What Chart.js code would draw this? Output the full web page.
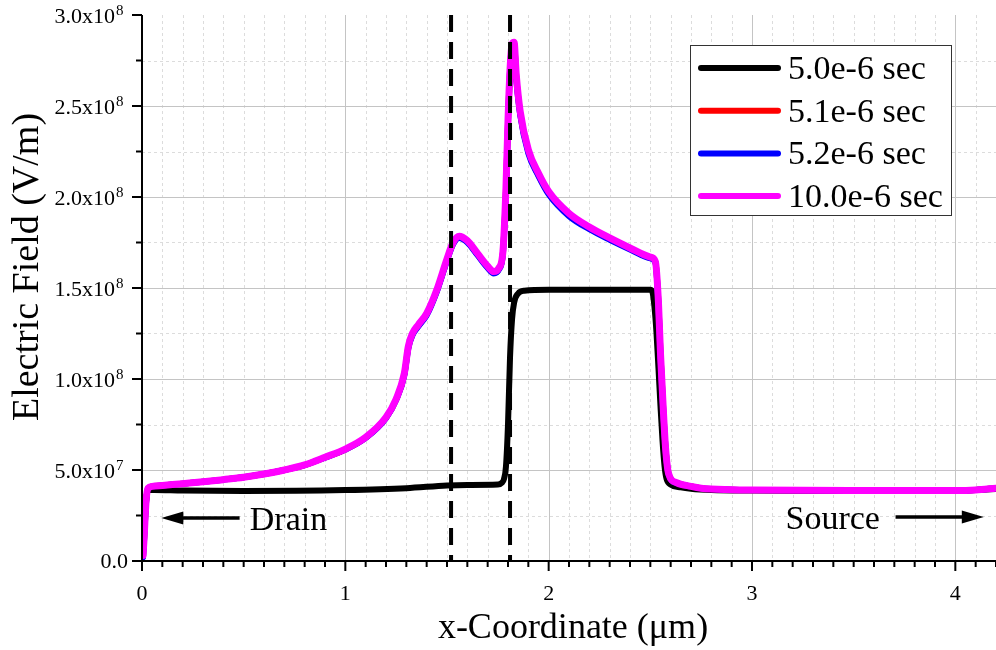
<!DOCTYPE html>
<html>
<head>
<meta charset="utf-8">
<title>Electric Field vs x-Coordinate</title>
<script src="https://cdn.jsdelivr.net/npm/chart.js@4.4.0/dist/chart.umd.min.js"></script>
<style>
  html, body { margin: 0; padding: 0; background: #fff; }
  #wrap { width: 996px; height: 650px; position: relative; }
</style>
</head>
<body>
<div id="wrap"><canvas id="field-chart"></canvas></div>
<script>
// field values are in units of 1e8 V/m, x in um
var yUnit = 1e8;

// x grid shared by the 5.1e-6, 5.2e-6 and 10.0e-6 sec curves
var xTransient = [0.005, 0.01, 0.02, 0.03, 0.05, 0.1, 0.2, 0.3, 0.4, 0.5, 0.6, 0.7, 0.8, 0.9, 1.0,
  1.1, 1.2, 1.25, 1.29, 1.31, 1.33, 1.36, 1.4, 1.45, 1.5, 1.53, 1.56, 1.6, 1.65, 1.7, 1.73, 1.755,
  1.775, 1.79, 1.8, 1.81, 1.82, 1.83, 1.84, 1.86, 1.9, 1.95, 2.0, 2.1, 2.2, 2.3, 2.4, 2.5, 2.525,
  2.54, 2.55, 2.563, 2.575, 2.59, 2.63, 2.7, 2.75, 2.9, 3.0, 3.5, 4.0, 4.1, 4.2];

var field100 = [0.03, 0.12, 0.33, 0.40, 0.41, 0.415, 0.425, 0.435, 0.447, 0.46, 0.478, 0.50, 0.528, 0.57, 0.615,
  0.68, 0.79, 0.89, 1.03, 1.18, 1.25, 1.30, 1.36, 1.49, 1.66, 1.75, 1.785, 1.76, 1.69, 1.62, 1.59, 1.61,
  1.70, 2.05, 2.42, 2.70, 2.84, 2.85, 2.68, 2.47, 2.26, 2.13, 2.03, 1.91, 1.835, 1.775, 1.72, 1.67, 1.645,
  1.42, 1.14, 0.85, 0.62, 0.48, 0.43, 0.41, 0.40, 0.392, 0.39, 0.387, 0.387, 0.39, 0.40];

var field52 = [0.02, 0.11, 0.32, 0.40, 0.41, 0.415, 0.425, 0.435, 0.447, 0.46, 0.478, 0.50, 0.527, 0.568, 0.612,
  0.676, 0.785, 0.885, 1.02, 1.17, 1.24, 1.29, 1.35, 1.48, 1.65, 1.74, 1.775, 1.75, 1.68, 1.61, 1.58, 1.60,
  1.69, 2.03, 2.40, 2.69, 2.83, 2.84, 2.66, 2.45, 2.24, 2.115, 2.015, 1.895, 1.823, 1.765, 1.712, 1.663, 1.64,
  1.41, 1.13, 0.84, 0.615, 0.475, 0.428, 0.41, 0.40, 0.392, 0.39, 0.387, 0.387, 0.39, 0.40];

var field51 = [0.025, 0.115, 0.325, 0.40, 0.41, 0.415, 0.425, 0.435, 0.447, 0.46, 0.478, 0.50, 0.527, 0.569, 0.613,
  0.678, 0.787, 0.887, 1.025, 1.175, 1.245, 1.295, 1.355, 1.485, 1.655, 1.745, 1.78, 1.755, 1.685, 1.615, 1.585, 1.605,
  1.695, 2.04, 2.41, 2.695, 2.835, 2.845, 2.67, 2.46, 2.25, 2.12, 2.022, 1.902, 1.829, 1.77, 1.716, 1.666, 1.642,
  1.415, 1.135, 0.845, 0.617, 0.477, 0.429, 0.41, 0.40, 0.392, 0.39, 0.387, 0.387, 0.39, 0.40];

// 5.0e-6 sec curve
var xBase = [0.005, 0.01, 0.02, 0.03, 0.06, 0.2, 0.5, 1.0, 1.3, 1.5, 1.6, 1.75, 1.77, 1.78, 1.79, 1.80, 1.81,
  1.82, 1.83, 1.85, 1.88, 2.0, 2.3, 2.5, 2.51, 2.52, 2.53, 2.54, 2.55, 2.56, 2.57, 2.58, 2.6, 2.65, 2.7,
  2.8, 3.0, 3.5, 4.0, 4.2];
var field50 = [0.05, 0.15, 0.33, 0.39, 0.39, 0.387, 0.385, 0.39, 0.40, 0.415, 0.418, 0.42, 0.43, 0.45, 0.52, 0.75, 1.12,
  1.33, 1.42, 1.47, 1.485, 1.49, 1.49, 1.49, 1.48, 1.40, 1.26, 1.06, 0.85, 0.66, 0.52, 0.45, 0.42, 0.405, 0.397,
  0.39, 0.387, 0.385, 0.387, 0.395];

var seriesLabels = ["5.0e-6 sec", "5.1e-6 sec", "5.2e-6 sec", "10.0e-6 sec"];
var seriesColors = ["#000000", "#ff0000", "#0000ff", "#ff00ff"];

// dashed region boundaries (um)
var dividerX = [1.52, 1.81];

var xTickLabels = ["0", "1", "2", "3", "4"];
var yTickMantissa = ["0.0", "5.0x10", "1.0x10", "1.5x10", "2.0x10", "2.5x10", "3.0x10"];
var yTickExp = ["", "7", "8", "8", "8", "8", "8"];

var serif = '"Liberation Serif", "Times New Roman", serif';

function buildPoints(xs, ys) {
    var pts = [];
    for (var i = 0; i < xs.length; i++) {
        pts.push({ x: xs[i], y: ys[i] * yUnit });
    }
    return pts;
}

function isWhole(v, step) {
    return Math.abs(v / step - Math.round(v / step)) < 1e-6;
}

function arrow(ctx, x1, x2, y) {
    var dir = x2 > x1 ? 1 : -1;
    var head = 22;
    ctx.beginPath();
    ctx.moveTo(x1, y);
    ctx.lineTo(x2 - dir * (head - 2), y);
    ctx.lineWidth = 3.5;
    ctx.strokeStyle = '#000';
    ctx.stroke();
    ctx.beginPath();
    ctx.moveTo(x2, y);
    ctx.lineTo(x2 - dir * head, y - 6.5);
    ctx.lineTo(x2 - dir * head, y + 6.5);
    ctx.closePath();
    ctx.fillStyle = '#000';
    ctx.fill();
}

var frame = {
    id: 'frame',
    beforeDatasetsDraw: function (chart) {
        var ctx = chart.ctx, a = chart.chartArea;
        var xs = chart.scales.x, ys = chart.scales.y;
        ctx.save();
        ctx.lineWidth = 1;
        xs.ticks.forEach(function (t) {
            if (t.value <= 0) return;
            var px = Math.round(xs.getPixelForValue(t.value)) + 0.5;
            if (isWhole(t.value, 1)) { ctx.strokeStyle = '#c4c4c4'; ctx.setLineDash([]); }
            else { ctx.strokeStyle = '#dcdcdc'; ctx.setLineDash([3, 3]); }
            ctx.beginPath();
            ctx.moveTo(px, a.top);
            ctx.lineTo(px, a.bottom);
            ctx.stroke();
        });
        ys.ticks.forEach(function (t) {
            if (t.value <= 0 || t.value >= ys.max) return;
            var py = Math.round(ys.getPixelForValue(t.value)) + 0.5;
            if (isWhole(t.value, 0.5e8)) { ctx.strokeStyle = '#c4c4c4'; ctx.setLineDash([]); }
            else { ctx.strokeStyle = '#dcdcdc'; ctx.setLineDash([3, 3]); }
            ctx.beginPath();
            ctx.moveTo(a.left, py);
            ctx.lineTo(a.right, py);
            ctx.stroke();
        });
        ctx.restore();
    },
    afterDatasetsDraw: function (chart) {
        var ctx = chart.ctx, a = chart.chartArea;
        var xs = chart.scales.x, ys = chart.scales.y;
        ctx.save();
        ctx.setLineDash([]);
        ctx.strokeStyle = '#000';
        ctx.lineWidth = 2;
        // axes
        ctx.beginPath();
        ctx.moveTo(a.left, a.top);
        ctx.lineTo(a.left, a.bottom);
        ctx.lineTo(a.right, a.bottom);
        ctx.stroke();
        // tick marks
        xs.ticks.forEach(function (t) {
            var px = xs.getPixelForValue(t.value);
            var len = isWhole(t.value, 1) ? 10 : 6;
            ctx.beginPath();
            ctx.moveTo(px, a.bottom);
            ctx.lineTo(px, a.bottom + len);
            ctx.stroke();
        });
        ys.ticks.forEach(function (t) {
            var py = ys.getPixelForValue(t.value);
            var len = isWhole(t.value, 0.5e8) ? 10 : 6;
            ctx.beginPath();
            ctx.moveTo(a.left, py);
            ctx.lineTo(a.left - len, py);
            ctx.stroke();
        });
        ctx.restore();
    },
    afterDraw: function (chart) {
        var ctx = chart.ctx, a = chart.chartArea;
        var xs = chart.scales.x, ys = chart.scales.y;
        ctx.save();
        ctx.fillStyle = '#000';
        ctx.textBaseline = 'alphabetic';

        // x tick labels
        ctx.font = '22px ' + serif;
        ctx.textAlign = 'center';
        for (var i = 0; i < xTickLabels.length; i++) {
            ctx.fillText(xTickLabels[i], xs.getPixelForValue(i), a.bottom + 39);
        }

        // y tick labels with superscript exponent
        for (var j = 0; j < yTickMantissa.length; j++) {
            var py = ys.getPixelForValue(j * 0.5e8);
            ctx.font = '22px ' + serif;
            ctx.textAlign = 'right';
            if (yTickExp[j] === '') {
                ctx.fillText(yTickMantissa[j], a.left - 14, py + 7);
            } else {
                ctx.fillText(yTickMantissa[j], a.left - 27, py + 8);
                ctx.font = '15px ' + serif;
                ctx.textAlign = 'left';
                ctx.fillText(yTickExp[j], a.left - 26, py);
            }
        }

        // axis titles
        ctx.font = '36px ' + serif;
        ctx.textAlign = 'center';
        ctx.fillText('x-Coordinate (\u03bcm)', (a.left + a.right) / 2 + 4, 638);
        ctx.save();
        ctx.translate(38, 267);
        ctx.rotate(-Math.PI / 2);
        ctx.font = '38px ' + serif;
        ctx.fillText('Electric Field (V/m)', 0, 0);
        ctx.restore();

        // Drain / Source notes
        var yDrain = ys.getPixelForValue(0.236e8);
        var ySource = ys.getPixelForValue(0.242e8);
        arrow(ctx, xs.getPixelForValue(0.48), xs.getPixelForValue(0.095), yDrain);
        arrow(ctx, xs.getPixelForValue(3.706), xs.getPixelForValue(4.14), ySource);
        ctx.font = '34px ' + serif;
        ctx.textAlign = 'left';
        ctx.fillText('Drain', xs.getPixelForValue(0.53), yDrain + 12);
        ctx.fillText('Source', xs.getPixelForValue(3.165), ySource + 12);

        // legend box
        var bx = 690, by = 45, bw = 261, bh = 170;
        ctx.fillStyle = '#fff';
        ctx.fillRect(bx, by, bw, bh);
        ctx.strokeStyle = '#333';
        ctx.lineWidth = 1;
        ctx.strokeRect(bx + 0.5, by + 0.5, bw, bh);
        ctx.font = '34px ' + serif;
        ctx.textAlign = 'left';
        for (var k = 0; k < seriesLabels.length; k++) {
            var ry = by + 23 + k * 42.7;
            ctx.beginPath();
            ctx.moveTo(701, ry);
            ctx.lineTo(778, ry);
            ctx.lineWidth = 6;
            ctx.lineCap = 'round';
            ctx.strokeStyle = seriesColors[k];
            ctx.stroke();
            ctx.fillStyle = '#000';
            ctx.fillText(seriesLabels[k], 788, ry + 11);
        }
        ctx.restore();
    }
};

var seriesX = [xBase, xTransient, xTransient, xTransient];
var seriesY = [field50, field51, field52, field100];
var datasets = [];
for (var s = 0; s < seriesLabels.length; s++) {
    datasets.push({
        label: seriesLabels[s],
        data: buildPoints(seriesX[s], seriesY[s]),
        borderColor: seriesColors[s],
        backgroundColor: seriesColors[s],
        borderWidth: s === 3 ? 7 : 6,
        cubicInterpolationMode: 'monotone',
        order: 4 - s
    });
}
dividerX.forEach(function (dx) {
    datasets.push({
        label: '',
        data: [{ x: dx, y: 3e8 }, { x: dx, y: 0 }],
        borderColor: '#000',
        borderWidth: 4,
        borderDash: [17, 10],
        borderCapStyle: 'butt',
        tension: 0,
        order: 0
    });
});

new Chart(document.getElementById('field-chart'), {
    type: 'line',
    data: { datasets: datasets },
    options: {
        responsive: true,
        maintainAspectRatio: false,
        animation: false,
        layout: { padding: { top: 15, right: 0, left: 0, bottom: 0 } },
        elements: {
            point: { radius: 0 },
            line: { borderCapStyle: 'round', borderJoinStyle: 'round' }
        },
        plugins: {
            legend: { display: false },
            tooltip: { enabled: false }
        },
        scales: {
            x: {
                type: 'linear', min: 0, max: 4.2,
                ticks: { stepSize: 0.1, display: false, autoSkip: false },
                grid: { display: false },
                border: { display: false },
                afterFit: function (scale) { scale.height = 89; }
            },
            y: {
                type: 'linear', min: 0, max: 3e8,
                ticks: { stepSize: 0.25e8, display: false, autoSkip: false },
                grid: { display: false },
                border: { display: false },
                afterFit: function (scale) { scale.width = 142; }
            }
        }
    },
    plugins: [frame]
});
</script>
</body>
</html>
